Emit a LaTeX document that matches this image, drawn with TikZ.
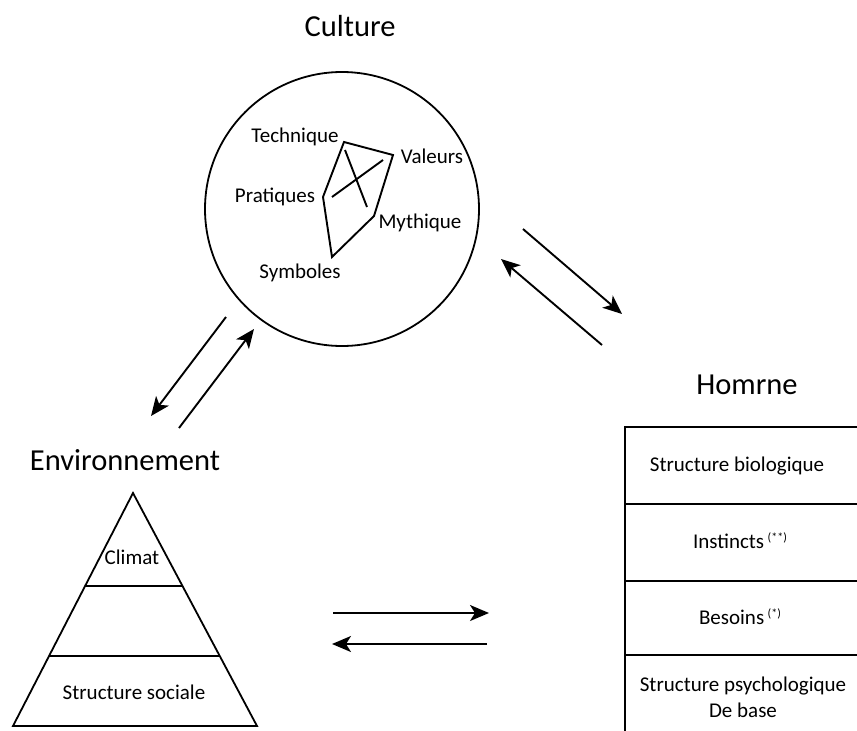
\documentclass[tikz,border=0pt]{standalone}
\usepackage{fontspec}
\setmainfont{Carlito}
\usetikzlibrary{arrows.meta,calc}
\newcommand{\supmark}[1]{\raisebox{7pt}{\fontsize{12}{12}\selectfont #1}}
\begin{document}
\begin{tikzpicture}[x=1pt,y=-1pt,
  line width=1.8pt,
  title/.style={font=\fontsize{30.5}{34}\selectfont, inner sep=0pt},
  lbl/.style={font=\fontsize{21}{25}\selectfont, inner sep=0pt},
  boxlbl/.style={font=\fontsize{21}{26}\selectfont, inner sep=0pt, align=center},
  link/.style={line width=1.9pt, -{Stealth[length=19pt,width=16pt,inset=5pt]}},
]
\path[use as bounding box] (0,0) rectangle (857,731);

% ---- Culture ----
\node[title] (tculture) at (350,26) {Culture};
\node[circle, draw, minimum size=274pt, inner sep=0pt] (culture) at (342,209) {};

% kite of cultural components
\coordinate (kt) at (344,142);
\coordinate (kr) at (393,155);
\coordinate (km) at (374,216);
\coordinate (kb) at (332,257);
\coordinate (kl) at (323,197);
\draw[line width=1.9pt, line join=miter] (kt) -- (kr) -- (km) -- (kb) -- (kl) -- cycle;
\coordinate (c1a) at (345,150);
\coordinate (c1b) at (367,207);
\coordinate (c2a) at (332,197);
\coordinate (c2b) at (383,160);
\draw[line width=1.9pt] (c1a) -- (c1b);
\draw[line width=1.9pt] (c2a) -- (c2b);

\node[lbl] (technique) at (295,137) {Technique};
\node[lbl] (valeurs) at (432,156) {Valeurs};
\node[lbl] (pratiques) at (275,197) {Pratiques};
\node[lbl] (mythique) at (420,223) {Mythique};
\node[lbl] (symboles) at (300,273) {Symboles};

% ---- Environnement ----
\node[title] (tenv) at (125,460) {Environnement};
\coordinate (apex) at (133,493);
\coordinate (bl) at (13,726);
\coordinate (br) at (257,726);
\draw[line join=miter] (apex) -- (bl) -- (br) -- cycle;
\draw ($(apex)!0.399!(bl)$) -- ($(apex)!0.399!(br)$);
\draw ($(apex)!0.70!(bl)$) -- ($(apex)!0.70!(br)$);
\node[lbl] (climat) at (132,557) {Climat};
\node[lbl] (social) at (134,692) {Structure sociale};

% ---- Homme ----
\node[title] (thomme) at (747,385) {Homrne};
\coordinate (hl) at (625,427);
\coordinate (hr) at (857,427);
\coordinate (hb) at (625,731);
\draw (hr) -- (hl) -- (hb);
\foreach \y/\n in {504/a,581/b,655/c}{
  \coordinate (s\n l) at (625,\y);
  \coordinate (s\n r) at (857,\y);
  \draw (s\n l) -- (s\n r);
}
\node[boxlbl] (bio) at (737,466) {Structure biologique};
\node[boxlbl] (inst) at (740,541) {Instincts\,\supmark{(**)}};
\node[boxlbl] (bes) at (740,617) {Besoins\,\supmark{(*)}};
\node[boxlbl] (psy) at (743,697) {Structure psychologique\\De base};

% ---- exchanges ----
\coordinate (a1s) at (523,229);
\coordinate (a1e) at (622,314);
\coordinate (a2s) at (602,345);
\coordinate (a2e) at (501,259);
\draw[link] (a1s) -- (a1e);
\draw[link] (a2s) -- (a2e);

\coordinate (b1s) at (226,317);
\coordinate (b1e) at (151,416);
\coordinate (b2s) at (179,428);
\coordinate (b2e) at (254,329);
\draw[link] (b1s) -- (b1e);
\draw[link] (b2s) -- (b2e);

\coordinate (h1s) at (333,613);
\coordinate (h1e) at (489,613);
\coordinate (h2s) at (487,644);
\coordinate (h2e) at (332,644);
\draw[link] (h1s) -- (h1e);
\draw[link] (h2s) -- (h2e);
\end{tikzpicture}
\end{document}
